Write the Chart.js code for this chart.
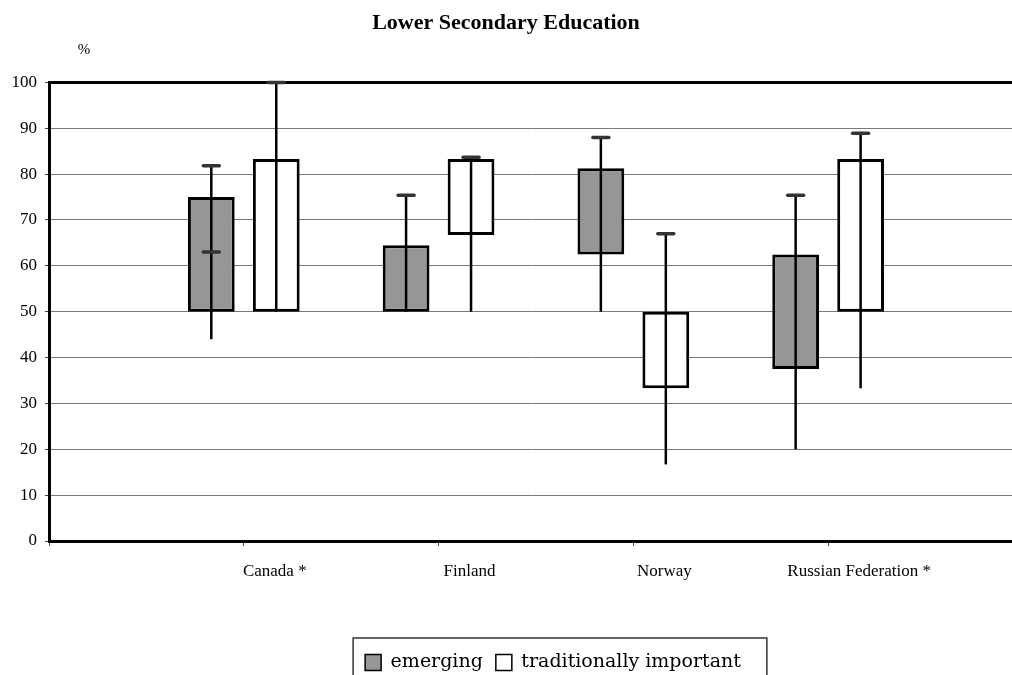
<!DOCTYPE html>
<html>
<head>
<meta charset="utf-8">
<script src="https://cdn.jsdelivr.net/npm/chart.js@4.4.1/dist/chart.umd.min.js"></script>
<style>
  html, body { margin: 0; padding: 0; background: #fff; overflow: hidden; }
  #wrap { width: 1012px; height: 675px; overflow: hidden; }
</style>
</head>
<body>
<div id="wrap"><canvas id="chart" width="1012" height="682"></canvas></div>
<script>
const categories = ['Canada *', 'Finland', 'Norway', 'Russian Federation *'];
const categoryPos = [1, 2, 3, 4];

// emerging (grey)
const emergingBoxLow   = [50, 50, 62.5, 37.5];
const emergingBoxHigh  = [75, 64.5, 81.3, 62.5];
const emergingWhiskLow = [44, 50, 50, 20];
const emergingWhiskHigh = [81.8, 75.4, 88, 75.4];
const emergingMidCap   = [63, null, null, null];

// traditionally important (white)
const tradBoxLow   = [50, 66.7, 33.3, 50];
const tradBoxHigh  = [83.3, 83.3, 50, 83.3];
const tradWhiskLow = [50, 50, 16.7, 33.3];
const tradWhiskHigh = [100, 83.7, 67, 88.9];
const tradMidCap   = [null, null, null, null];

const yTicks = [0, 10, 20, 30, 40, 50, 60, 70, 80, 90, 100];

const whiskers = [
  { low: emergingWhiskLow, high: emergingWhiskHigh, mid: emergingMidCap },
  { low: tradWhiskLow, high: tradWhiskHigh, mid: tradMidCap }
];

function boxes(lo, hi) {
  return categoryPos.map((x, i) => ({ x: x, y: [lo[i], hi[i]] }));
}

const whiskerPlugin = {
  id: 'whiskers',
  afterDatasetsDraw(chart) {
    const ctx = chart.ctx;
    const y = chart.scales.y;
    whiskers.forEach((w, d) => {
      const meta = chart.getDatasetMeta(d);
      meta.data.forEach((bar, i) => {
        const x = bar.x;
        ctx.save();
        ctx.strokeStyle = '#000';
        ctx.lineWidth = 2.5;
        ctx.beginPath();
        ctx.moveTo(x, y.getPixelForValue(w.low[i]));
        ctx.lineTo(x, y.getPixelForValue(w.high[i]));
        ctx.stroke();
        ctx.strokeStyle = '#333';
        ctx.lineWidth = 3.5;
        ctx.lineCap = 'round';
        const caps = [w.high[i]];
        if (w.mid[i] != null) caps.push(w.mid[i]);
        caps.forEach(v => {
          const py = y.getPixelForValue(v);
          ctx.beginPath();
          ctx.moveTo(x - 8, py);
          ctx.lineTo(x + 8, py);
          ctx.stroke();
        });
        ctx.restore();
      });
    });
  }
};

const extrasPlugin = {
  id: 'extras',
  afterLayout(chart) {
    chart.legend.left += 47;
    chart.legend.right += 47;
  },
  afterDraw(chart) {
    const ctx = chart.ctx;
    ctx.save();
    ctx.fillStyle = '#000';
    ctx.font = '15px "Liberation Serif"';
    ctx.textAlign = 'center';
    ctx.textBaseline = 'middle';
    ctx.fillText('%', 84, 50);
    const hb = chart.legend.legendHitBoxes;
    if (hb && hb.length) {
      const l = Math.min(...hb.map(h => h.left));
      const r = Math.max(...hb.map(h => h.left + h.width));
      const t = Math.min(...hb.map(h => h.top));
      ctx.strokeStyle = '#333';
      ctx.lineWidth = 1.5;
      ctx.strokeRect(l - 12, t - 15, r - l + 38, 80);
    }
    ctx.restore();
  }
};

new Chart(document.getElementById('chart'), {
  type: 'bar',
  data: {
    datasets: [
      {
        label: 'emerging',
        data: boxes(emergingBoxLow, emergingBoxHigh),
        backgroundColor: '#969696',
        borderColor: '#000',
        borderWidth: 3,
        borderSkipped: false
      },
      {
        label: 'traditionally important',
        data: boxes(tradBoxLow, tradBoxHigh),
        backgroundColor: '#fff',
        borderColor: '#000',
        borderWidth: 3,
        borderSkipped: false
      }
    ]
  },
  options: {
    responsive: false,
    devicePixelRatio: 1,
    animation: false,
    categoryPercentage: 0.667,
    barPercentage: 0.72,
    layout: { padding: 0 },
    plugins: {
      title: {
        display: true,
        text: 'Lower Secondary Education',
        color: '#000',
        font: { family: '"Liberation Serif"', size: 22, weight: 'bold' },
        padding: { top: 10, bottom: 46 }
      },
      legend: {
        position: 'bottom',
        labels: {
          color: '#000',
          font: { family: '"DejaVu Serif"', size: 19 },
          boxWidth: 16,
          boxHeight: 16,
          padding: 13,
          generateLabels(chart) {
            return chart.data.datasets.map((ds, i) => ({
              text: ds.label,
              fillStyle: ds.backgroundColor,
              strokeStyle: '#000',
              lineWidth: 1.5,
              datasetIndex: i,
              hidden: false
            }));
          }
        }
      },
      tooltip: { enabled: false }
    },
    scales: {
      x: {
        type: 'linear',
        offset: false,
        min: 0,
        max: 4.944,
        afterBuildTicks(scale) {
          scale.ticks = [0].concat(categoryPos).map(v => ({ value: v }));
        },
        afterFit(scale) {
          const lg = scale.chart.legend;
          scale.height = scale.chart.height - 541 - (lg ? lg.height : 0);
        },
        ticks: {
          color: '#000',
          font: { family: '"Liberation Serif"', size: 17 },
          padding: 15,
          labelOffset: 31,
          maxRotation: 0,
          autoSkip: false,
          callback: (v) => categories[categoryPos.indexOf(v)] || ''
        },
        grid: { offset: false, drawOnChartArea: false, drawTicks: true, tickLength: 5, tickColor: '#444', tickWidth: 1 },
        border: { color: '#000', width: 3 }
      },
      y: {
        min: 0,
        max: 100,
        afterBuildTicks(scale) {
          scale.ticks = yTicks.map(v => ({ value: v }));
        },
        afterFit(scale) { scale.width = 49; },
        ticks: {
          color: '#000',
          font: { family: '"Liberation Serif"', size: 17 },
          padding: 8
        },
        grid: {
          color: (c) => c.tick && c.tick.value === 100 ? '#000' : '#7a7a7a',
          lineWidth: (c) => c.tick && c.tick.value === 100 ? 3 : 1,
          tickLength: 4,
          tickColor: '#444',
          tickWidth: 1
        },
        border: { color: '#000', width: 3 }
      }
    }
  },
  plugins: [whiskerPlugin, extrasPlugin]
});
</script>
</body>
</html>
